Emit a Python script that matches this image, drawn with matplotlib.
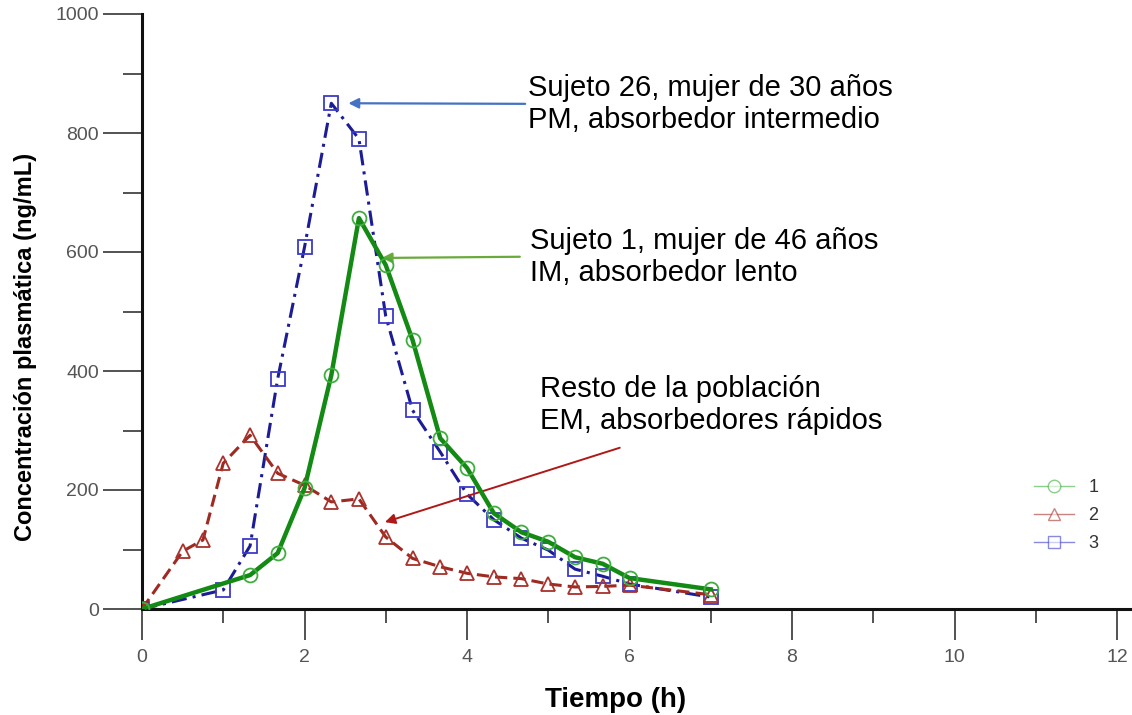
import matplotlib
matplotlib.use('Agg')
import matplotlib.pyplot as plt
from matplotlib.lines import Line2D
from matplotlib.ticker import MultipleLocator

plt.rcParams['font.family'] = ['Liberation Sans', 'DejaVu Sans']

# sujeto 1 (IM, absorbedor lento)
t1 = [0, 1.33, 1.67, 2.0, 2.33, 2.67, 3.0, 3.33, 3.67, 4.0, 4.33, 4.67, 5.0, 5.33, 5.67, 6.0, 7.0]
c1 = [0, 57, 94, 203, 393, 657, 578, 452, 287, 237, 161, 129, 113, 87, 76, 52, 33]

# resto de la poblacion (EM)
t2 = [0, 0.5, 0.75, 1.0, 1.33, 1.67, 2.0, 2.33, 2.67, 3.0, 3.33, 3.67, 4.0, 4.33, 4.67, 5.0, 5.33, 5.67, 6.0, 7.0]
c2 = [0, 97, 116, 245, 292, 228, 208, 180, 185, 121, 85, 71, 60, 54, 51, 42, 37, 38, 40, 24]

# sujeto 26 (PM)
t3 = [0, 1.0, 1.33, 1.67, 2.0, 2.33, 2.67, 3.0, 3.33, 3.67, 4.0, 4.33, 4.67, 5.0, 5.33, 5.67, 6.0, 7.0]
c3 = [0, 32, 106, 387, 608, 850, 790, 492, 334, 264, 193, 150, 119, 99, 67, 55, 42, 20]

legend_labels = ['1', '2', '3']

fig = plt.figure(figsize=(11.32, 7.15), dpi=100)
ax = fig.add_axes([142 / 1132, 106 / 715, 990 / 1132, 595 / 715])

ax.plot(t3, c3, color='#1c1c96', lw=2.2, ls=(0, (5, 2, 1, 2)), marker='s', ms=10,
        mfc='none', mec='#3a3ac8', mew=1.3, zorder=3)
ax.plot(t2, c2, color='#9e2a22', lw=2.2, ls=(0, (4, 2)), marker='^', ms=10,
        mfc='none', mec='#a8322c', mew=1.3, zorder=3)
ax.plot(t1, c1, color='#138a13', lw=3.2, ls='-', marker='o', ms=10,
        mfc='none', mec='#3fae3f', mew=1.3, zorder=4)

ax.set_xlim(0, 990 / 81.25)
ax.set_ylim(0, 1000)
ax.xaxis.set_major_locator(MultipleLocator(2))
ax.xaxis.set_minor_locator(MultipleLocator(1))
ax.yaxis.set_major_locator(MultipleLocator(200))
ax.yaxis.set_minor_locator(MultipleLocator(100))

for s in ['top', 'right']:
    ax.spines[s].set_visible(False)
for s in ['left', 'bottom']:
    ax.spines[s].set_linewidth(2.2)
    ax.spines[s].set_color('#111111')

ax.tick_params(axis='x', which='major', direction='out', length=22, width=1.3,
               color='#444444', labelsize=14, labelcolor='#555555', pad=7)
ax.tick_params(axis='x', which='minor', direction='out', length=10, width=1.3, color='#444444')
ax.tick_params(axis='y', which='major', direction='out', length=28, width=1.3,
               color='#444444', labelsize=14, labelcolor='#555555', pad=3)
ax.tick_params(axis='y', which='minor', direction='out', length=14, width=1.3, color='#444444')

ax.set_xlabel('Tiempo (h)', fontsize=20, fontweight='bold', va='center')
ax.set_ylabel('Concentración plasmática (ng/mL)', fontsize=17, fontweight='bold', va='center')
ax.xaxis.set_label_coords(0.478, -0.153)
ax.yaxis.set_label_coords(-0.118, 0.44)

ax.annotate('Sujeto 26, mujer de 30 años\nPM, absorbedor intermedio',
            xy=(2.54, 850), xytext=(4.75, 849), textcoords='data',
            fontsize=21, va='center', ha='left', linespacing=1.2,
            arrowprops=dict(arrowstyle='-|>', color='#4472c4', lw=1.6,
                            shrinkA=0, shrinkB=0, relpos=(0, 0.5), mutation_scale=15))
ax.annotate('', xy=(2.95, 590), xytext=(4.65, 592), textcoords='data',
            arrowprops=dict(arrowstyle='-|>', color='#6aaa3a', lw=1.6,
                            shrinkA=0, shrinkB=0, mutation_scale=15))
ax.text(4.78, 592, 'Sujeto 1, mujer de 46 años\nIM, absorbedor lento',
        fontsize=21, va='center', ha='left', linespacing=1.2)
ax.annotate('', xy=(2.99, 146), xytext=(5.88, 271), textcoords='data',
            arrowprops=dict(arrowstyle='-|>', color='#b01818', lw=1.4,
                            shrinkA=0, shrinkB=0, mutation_scale=15))
ax.text(4.9, 343, 'Resto de la población\nEM, absorbedores rápidos',
        fontsize=21, va='center', ha='left', linespacing=1.2)

handles = [
    Line2D([], [], color='#3fae3f', lw=1, marker='o', ms=9, mfc='white', mec='#3fae3f', alpha=0.6),
    Line2D([], [], color='#a8322c', lw=1, marker='^', ms=9, mfc='white', mec='#a8322c', alpha=0.6),
    Line2D([], [], color='#3a3ac8', lw=1, marker='s', ms=9, mfc='white', mec='#3a3ac8', alpha=0.6),
]
ax.legend(handles, legend_labels, loc='upper left', bbox_to_anchor=(0.885, 0.245),
          frameon=False, fontsize=13, handlelength=2.2, labelspacing=0.6,
          labelcolor='#333333')

fig.savefig('out.png', dpi=100)
